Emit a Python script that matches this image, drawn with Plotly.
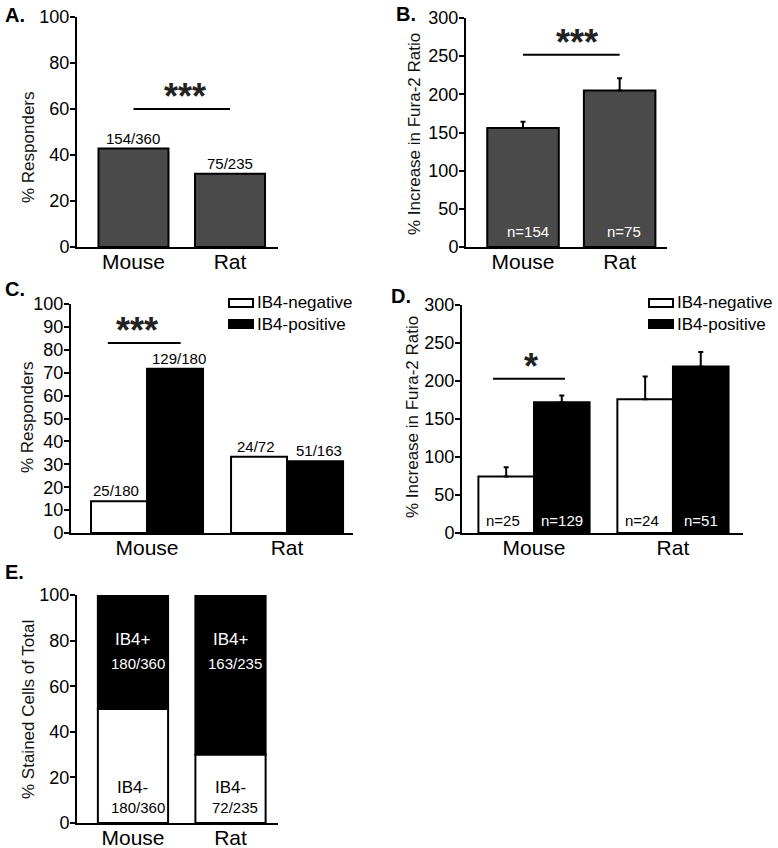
import plotly.graph_objects as go

W, H = 778, 848
FONT = "Liberation Sans, Arial, sans-serif"

# ---------------- data ----------------
species = ["Mouse", "Rat"]

# Panel A: % responders (all cells)
resp_count = [154, 75]
resp_total = [360, 235]
resp_pct = [42.8, 31.9]

# Panel B: % increase in Fura-2 ratio (all responders)
fura_all = [156, 205]
fura_all_sem = [8, 16]
fura_all_n = [154, 75]

# Panel C: % responders by IB4 status
neg_count = [25, 24]
neg_total = [180, 72]
neg_pct = [13.9, 33.3]
pos_count = [129, 51]
pos_total = [180, 163]
pos_pct = [71.7, 31.3]

# Panel D: % increase in Fura-2 ratio by IB4 status
fura_neg = [74.5, 176]
fura_neg_sem = [12, 30]
fura_neg_n = [25, 24]
fura_pos = [172, 219]
fura_pos_sem = [9, 19]
fura_pos_n = [129, 51]

# Panel E: % stained cells of total
stain_neg_pct = [50, 30]
stain_pos_pct = [50, 70]
stain_neg = [180, 72]
stain_pos = [180, 163]
stain_total = [360, 235]

legend_names = ["IB4-negative", "IB4-positive"]
panel_letters = ["A.", "B.", "C.", "D.", "E."]

GRAY = "#4a4a4a"


def px(x):
    return x / W


def py(y):
    return 1 - y / H


# panel boxes in pixels: (left, right, top, bottom), x range, y max, dtick
panels = {
    1: dict(box=(77, 278, 17, 247), xr=[-0.585, 1.497], ymax=100, dtick=20),
    2: dict(box=(466, 667, 18, 247), xr=[-0.59, 1.49], ymax=300, dtick=50),
    3: dict(box=(71, 353, 304, 533), xr=[-0.543, 1.471], ymax=100, dtick=10),
    4: dict(box=(462, 743, 305, 533), xr=[-0.518, 1.504], ymax=300, dtick=50),
    5: dict(box=(77, 278, 595, 823), xr=[-0.574, 1.487], ymax=100, dtick=20),
}

fig = go.Figure()
line = dict(color="black", width=2)


def err(arr):
    return dict(type="data", array=arr, arrayminus=[0] * len(arr), symmetric=False,
                color="black", thickness=2, width=2.5)


# A
fig.add_trace(go.Bar(x=species, y=resp_pct, xaxis="x", yaxis="y", width=0.725, offset=-0.3625,
                     marker=dict(color=GRAY, line=line), showlegend=False))
# B
fig.add_trace(go.Bar(x=species, y=fura_all, xaxis="x2", yaxis="y2", width=0.74, offset=-0.37,
                     marker=dict(color=GRAY, line=line), error_y=err(fura_all_sem), showlegend=False))
# C
fig.add_trace(go.Bar(x=species, y=neg_pct, xaxis="x3", yaxis="y3", width=0.4, offset=-0.4,
                     marker=dict(color="white", line=line), name=legend_names[0], showlegend=False))
fig.add_trace(go.Bar(x=species, y=pos_pct, xaxis="x3", yaxis="y3", width=0.4, offset=0,
                     marker=dict(color="black", line=line), name=legend_names[1], showlegend=False))
# D
fig.add_trace(go.Bar(x=species, y=fura_neg, xaxis="x4", yaxis="y4", width=0.4, offset=-0.4,
                     marker=dict(color="white", line=line), error_y=err(fura_neg_sem),
                     name=legend_names[0], showlegend=False))
fig.add_trace(go.Bar(x=species, y=fura_pos, xaxis="x4", yaxis="y4", width=0.4, offset=0,
                     marker=dict(color="black", line=line), error_y=err(fura_pos_sem),
                     name=legend_names[1], showlegend=False))
# E (stacked via base)
fig.add_trace(go.Bar(x=species, y=stain_neg_pct, xaxis="x5", yaxis="y5", width=0.72, offset=-0.36,
                     marker=dict(color="white", line=line), showlegend=False))
fig.add_trace(go.Bar(x=species, y=stain_pos_pct, base=stain_neg_pct, xaxis="x5", yaxis="y5",
                     width=0.72, offset=-0.36,
                     marker=dict(color="black", line=line), showlegend=False))

layout = dict(
    width=W, height=H, margin=dict(l=0, r=0, t=0, b=0, pad=0, autoexpand=False),
    paper_bgcolor="white", plot_bgcolor="white",
    barmode="overlay", font=dict(family=FONT, color="black"),
)
for i, p in panels.items():
    l, r, t, b = p["box"]
    sx = "" if i == 1 else str(i)
    layout["xaxis" + sx] = dict(
        domain=[px(l), px(r)], anchor="y" + sx, type="category", range=p["xr"],
        showline=True, linecolor="black", linewidth=2, ticks="", showgrid=False,
        zeroline=False, tickfont=dict(size=21, family=FONT, color="black"), fixedrange=True,
        automargin=False, ticklabelstandoff=-5,
    )
    layout["yaxis" + sx] = dict(
        domain=[py(b), py(t)], anchor="x" + sx, range=[0, p["ymax"]], dtick=p["dtick"],
        tick0=0, showline=True, linecolor="black", linewidth=2, ticks="outside",
        ticklen=5, tickwidth=2, tickcolor="black", showgrid=False, zeroline=False,
        tickfont=dict(size=18, family=FONT, color="black"), fixedrange=True,
        automargin=False, ticklabelstandoff=-3,
    )
fig.update_layout(**layout)

ann = []


def A(**kw):
    d = dict(showarrow=False, font=dict(family=FONT, size=15, color="black"))
    d.update(kw)
    ann.append(d)


# panel letters
for letter, (x, y) in zip(panel_letters, [(3, 15), (394, 14), (3, 289), (389, 296), (3, 572)]):
    A(text=f"<b>{letter}</b>", x=px(x), y=py(y), xref="paper", yref="paper",
      xanchor="left", yanchor="middle", font=dict(family=FONT, size=20, color="black"))

# axis titles
for text, (x, y) in zip(
    ["% Responders", "% Increase in Fura-2 Ratio", "% Responders",
     "% Increase in Fura-2 Ratio", "% Stained Cells of Total"],
    [(28, 147), (415, 134), (27, 417), (412, 417), (28, 710)],
):
    A(text=text, x=px(x), y=py(y), xref="paper", yref="paper", textangle=-90,
      xanchor="center", yanchor="middle", font=dict(family=FONT, size=17, color="#111"))

# A labels
for i in range(2):
    A(text=f"{resp_count[i]}/{resp_total[i]}", x=i, y=resp_pct[i], xref="x", yref="y",
      yanchor="bottom", yshift=0)
# B labels
for i in range(2):
    A(text=f"n={fura_all_n[i]}", x=i + 0.05, y=0, xref="x2", yref="y2", yanchor="middle",
      yshift=16, font=dict(family=FONT, size=15, color="white"))
# C labels
for i in range(2):
    A(text=f"{neg_count[i]}/{neg_total[i]}", x=i - 0.22, y=neg_pct[i], xref="x3", yref="y3",
      yanchor="bottom")
    A(text=f"{pos_count[i]}/{pos_total[i]}", x=i + 0.23, y=pos_pct[i], xref="x3", yref="y3",
      yanchor="bottom")
# D labels
for i in range(2):
    A(text=f"n={fura_neg_n[i]}", x=i - 0.22, y=0, xref="x4", yref="y4", yanchor="middle",
      yshift=13, font=dict(family=FONT, size=15, color="black"))
    A(text=f"n={fura_pos_n[i]}", x=i + 0.2, y=0, xref="x4", yref="y4", yanchor="middle",
      yshift=13, font=dict(family=FONT, size=15, color="white"))
# E labels
for i in range(2):
    A(text="IB4+", x=i, y=80.3, xref="x5", yref="y5", yanchor="middle",
      font=dict(family=FONT, size=17, color="white"))
    A(text=f"{stain_pos[i]}/{stain_total[i]}", x=i + 0.05, y=70, xref="x5", yref="y5",
      yanchor="middle", font=dict(family=FONT, size=15, color="white"))
    A(text="IB4-", x=i, y=15.4, xref="x5", yref="y5", yanchor="middle",
      font=dict(family=FONT, size=17, color="black"))
    A(text=f"{stain_neg[i]}/{stain_total[i]}", x=i + 0.05, y=6.6, xref="x5", yref="y5",
      yanchor="middle", font=dict(family=FONT, size=15, color="black"))

# significance bars
shapes = []
sig = [
    ("x", "y", 0, 1, 60, "***", 0.53),
    ("x2", "y2", 0, 1, 252, "***", 0.56),
    ("x3", "y3", -0.28, 0.24, 83, "***", -0.07),
    ("x4", "y4", -0.295, 0.223, 203, "*", -0.02),
]
for xr, yr, x0, x1, yv, stars, xc in sig:
    shapes.append(dict(type="line", xref=xr, yref=yr, x0=x0, x1=x1, y0=yv, y1=yv,
                       line=dict(color="black", width=2)))
    A(text=f"<b>{stars}</b>", x=xc, y=yv, xref=xr, yref=yr, yanchor="bottom", yshift=-10,
      font=dict(family=FONT, size=36, color="#222"))

# legends for C and D
for lx in (228, 648):
    for j, (fill, yc) in enumerate([("white", 303), ("black", 324)]):
        shapes.append(dict(type="rect", xref="paper", yref="paper",
                           x0=px(lx + 1), x1=px(lx + 25), y0=py(yc + 4), y1=py(yc - 4),
                           fillcolor=fill, line=dict(color="black", width=2)))
        A(text=legend_names[j], x=px(lx + 27), y=py(yc), xref="paper", yref="paper",
          xanchor="left", yanchor="middle", font=dict(family=FONT, size=17, color="black"))

fig.update_layout(annotations=ann, shapes=shapes)
fig.write_html(
    "out.html",
    config={"displayModeBar": False, "responsive": False},
    post_script="document.body.style.margin='0';document.body.style.padding='0';"
                "document.body.style.overflow='hidden';",
)
